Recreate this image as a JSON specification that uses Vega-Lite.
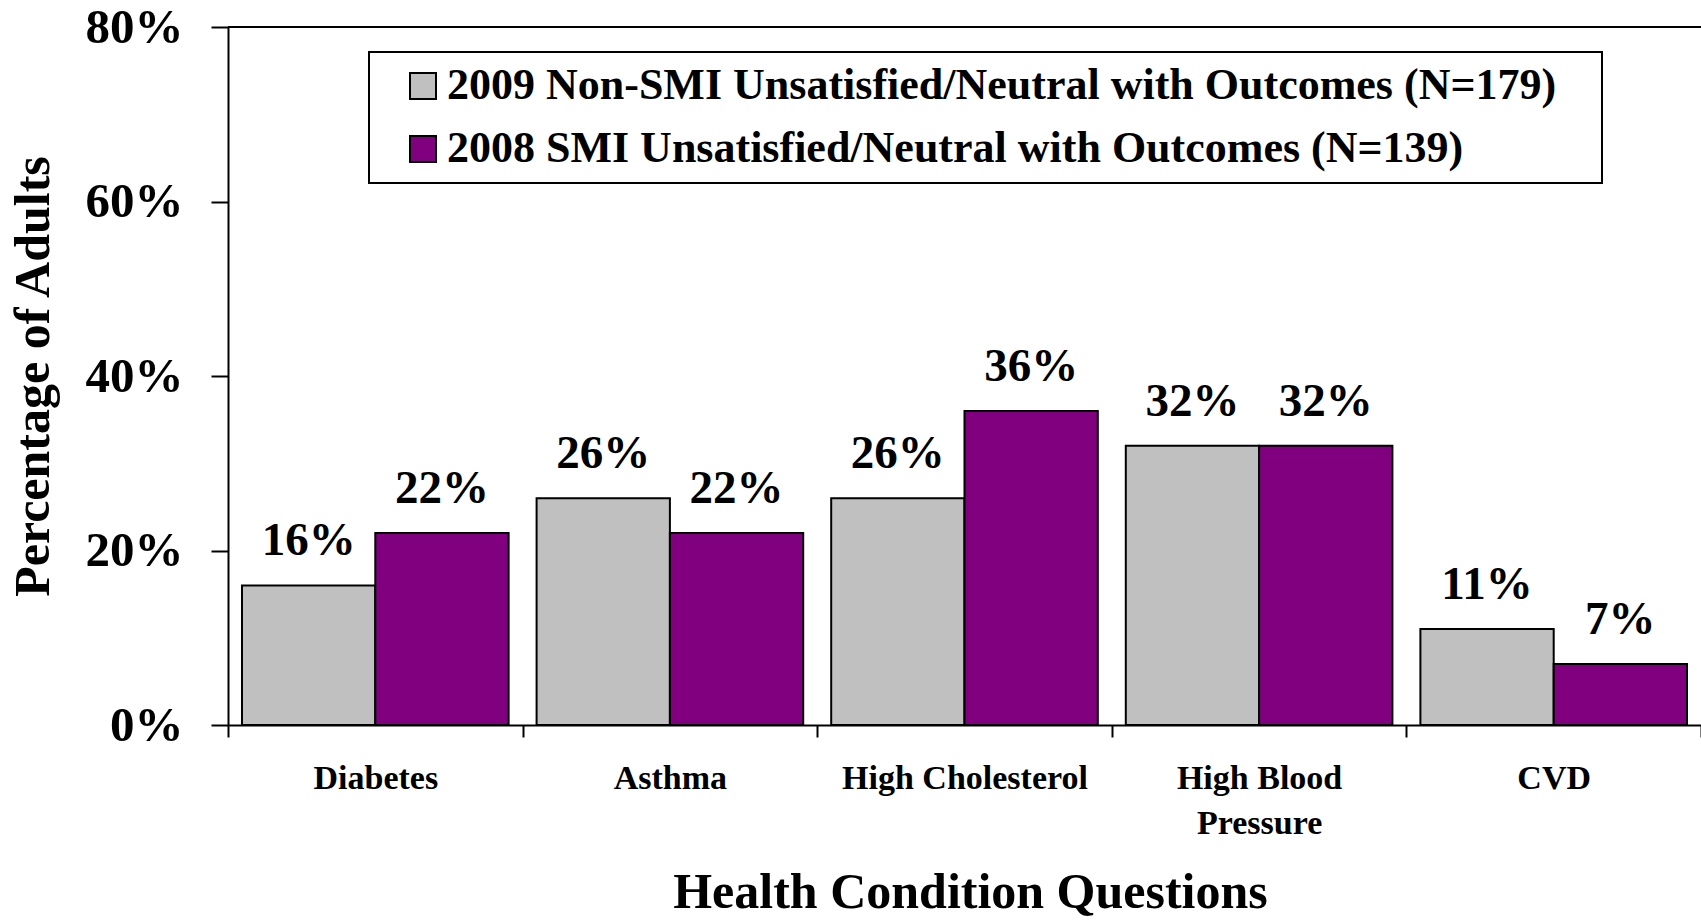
{
  "$schema": "https://vega.github.io/schema/vega-lite/v6.json",
  "autosize": {"type": "none"},
  "padding": {"left": 228, "top": 27, "right": 0, "bottom": 195},
  "width": 1473,
  "height": 698,
  "background": "white",
  "config": {
    "view": {"stroke": null},
    "font": "Liberation Serif"
  },
  "data": {
    "values": [
      {"condition": "Diabetes", "group": "2009 Non-SMI Unsatisfied/Neutral with Outcomes (N=179)", "value": 0.16},
      {"condition": "Diabetes", "group": "2008 SMI Unsatisfied/Neutral with Outcomes (N=139)", "value": 0.22},
      {"condition": "Asthma", "group": "2009 Non-SMI Unsatisfied/Neutral with Outcomes (N=179)", "value": 0.26},
      {"condition": "Asthma", "group": "2008 SMI Unsatisfied/Neutral with Outcomes (N=139)", "value": 0.22},
      {"condition": "High Cholesterol", "group": "2009 Non-SMI Unsatisfied/Neutral with Outcomes (N=179)", "value": 0.26},
      {"condition": "High Cholesterol", "group": "2008 SMI Unsatisfied/Neutral with Outcomes (N=139)", "value": 0.36},
      {"condition": "High Blood Pressure", "group": "2009 Non-SMI Unsatisfied/Neutral with Outcomes (N=179)", "value": 0.32},
      {"condition": "High Blood Pressure", "group": "2008 SMI Unsatisfied/Neutral with Outcomes (N=139)", "value": 0.32},
      {"condition": "CVD", "group": "2009 Non-SMI Unsatisfied/Neutral with Outcomes (N=179)", "value": 0.11},
      {"condition": "CVD", "group": "2008 SMI Unsatisfied/Neutral with Outcomes (N=139)", "value": 0.07}
    ]
  },
  "layer": [
    {
      "mark": {"type": "bar", "stroke": "black", "strokeWidth": 2, "opacity": 1},
      "encoding": {
        "x": {
          "field": "condition",
          "type": "nominal",
          "sort": null,
          "scale": {"paddingInner": 0, "paddingOuter": 0},
          "axis": {
            "title": "Health Condition Questions",
            "titleFont": "Liberation Serif",
            "titleFontSize": 50,
            "titleFontWeight": "bold",
            "titleColor": "black",
            "titleBaseline": "alphabetic",
            "titleY": 182,
            "titleX": 742,
            "labelAngle": 0,
            "labelFont": "Liberation Serif",
            "labelFontSize": 34,
            "labelFontWeight": "bold",
            "labelColor": "black",
            "labelPadding": 24,
            "labelLineHeight": 45,
            "labelLimit": 0,
            "labelExpr": "datum.label == 'High Blood Pressure' ? ['High Blood', 'Pressure'] : datum.label",
            "tickBand": "extent",
            "tickSize": 12,
            "tickWidth": 2,
            "tickColor": "black",
            "domainColor": "black",
            "domainWidth": 2
          }
        },
        "xOffset": {
          "field": "group",
          "type": "nominal",
          "sort": null,
          "scale": {"paddingInner": 0, "paddingOuter": 0.105}
        },
        "y": {
          "field": "value",
          "type": "quantitative",
          "scale": {"domain": [0, 0.8], "nice": false},
          "axis": {
            "title": "Percentage of Adults",
            "titleFont": "Liberation Serif",
            "titleFontSize": 50,
            "titleFontWeight": "bold",
            "titleColor": "black",
            "titleAngle": -90,
            "titleBaseline": "alphabetic",
            "titleX": -180,
            "values": [0, 0.2, 0.4, 0.6, 0.8],
            "format": ".0%",
            "labelFont": "Liberation Serif",
            "labelFontSize": 49,
            "labelFontWeight": "bold",
            "labelColor": "black",
            "labelPadding": 28,
            "tickSize": 17,
            "tickWidth": 2,
            "tickColor": "black",
            "domainColor": "black",
            "domainWidth": 2,
            "grid": false
          }
        },
        "color": {
          "field": "group",
          "type": "nominal",
          "sort": null,
          "scale": {
            "domain": ["2009 Non-SMI Unsatisfied/Neutral with Outcomes (N=179)", "2008 SMI Unsatisfied/Neutral with Outcomes (N=139)"],
            "range": ["#C0C0C0", "#800080"]
          },
          "legend": {
            "title": null,
            "orient": "none",
            "legendX": 141,
            "legendY": 25,
            "padding": 12,
            "strokeColor": "black",
            "fillColor": "white",
            "symbolType": "square",
            "symbolSize": 676,
            "symbolStrokeColor": "black",
            "symbolStrokeWidth": 2,
            "symbolOpacity": 1,
            "symbolOffset": 20,
            "labelOffset": 2,
            "rowPadding": 19,
            "labelFont": "Liberation Serif",
            "labelFontSize": 44,
            "labelFontWeight": "bold",
            "labelColor": "black",
            "labelLimit": 3000,
            "labelExpr": "datum.label + '\u00a0\u00a0\u00a0\u200b'",
            "encode": {"legend": {"update": {"strokeWidth": {"value": 2}}}}
          }
        }
      }
    },
    {
      "mark": {"type": "text", "baseline": "alphabetic", "align": "center", "dy": -30, "font": "Liberation Serif", "fontSize": 47, "fontWeight": "bold", "fill": "black"},
      "encoding": {
        "x": {"field": "condition", "type": "nominal", "sort": null},
        "xOffset": {"field": "group", "type": "nominal", "sort": null},
        "y": {"field": "value", "type": "quantitative"},
        "text": {"field": "value", "type": "quantitative", "format": ".0%"}
      }
    },
    {
      "mark": {"type": "rule", "color": "black", "strokeWidth": 2},
      "encoding": {
        "y": {"datum": 0.8, "type": "quantitative"}
      }
    }
  ]
}
